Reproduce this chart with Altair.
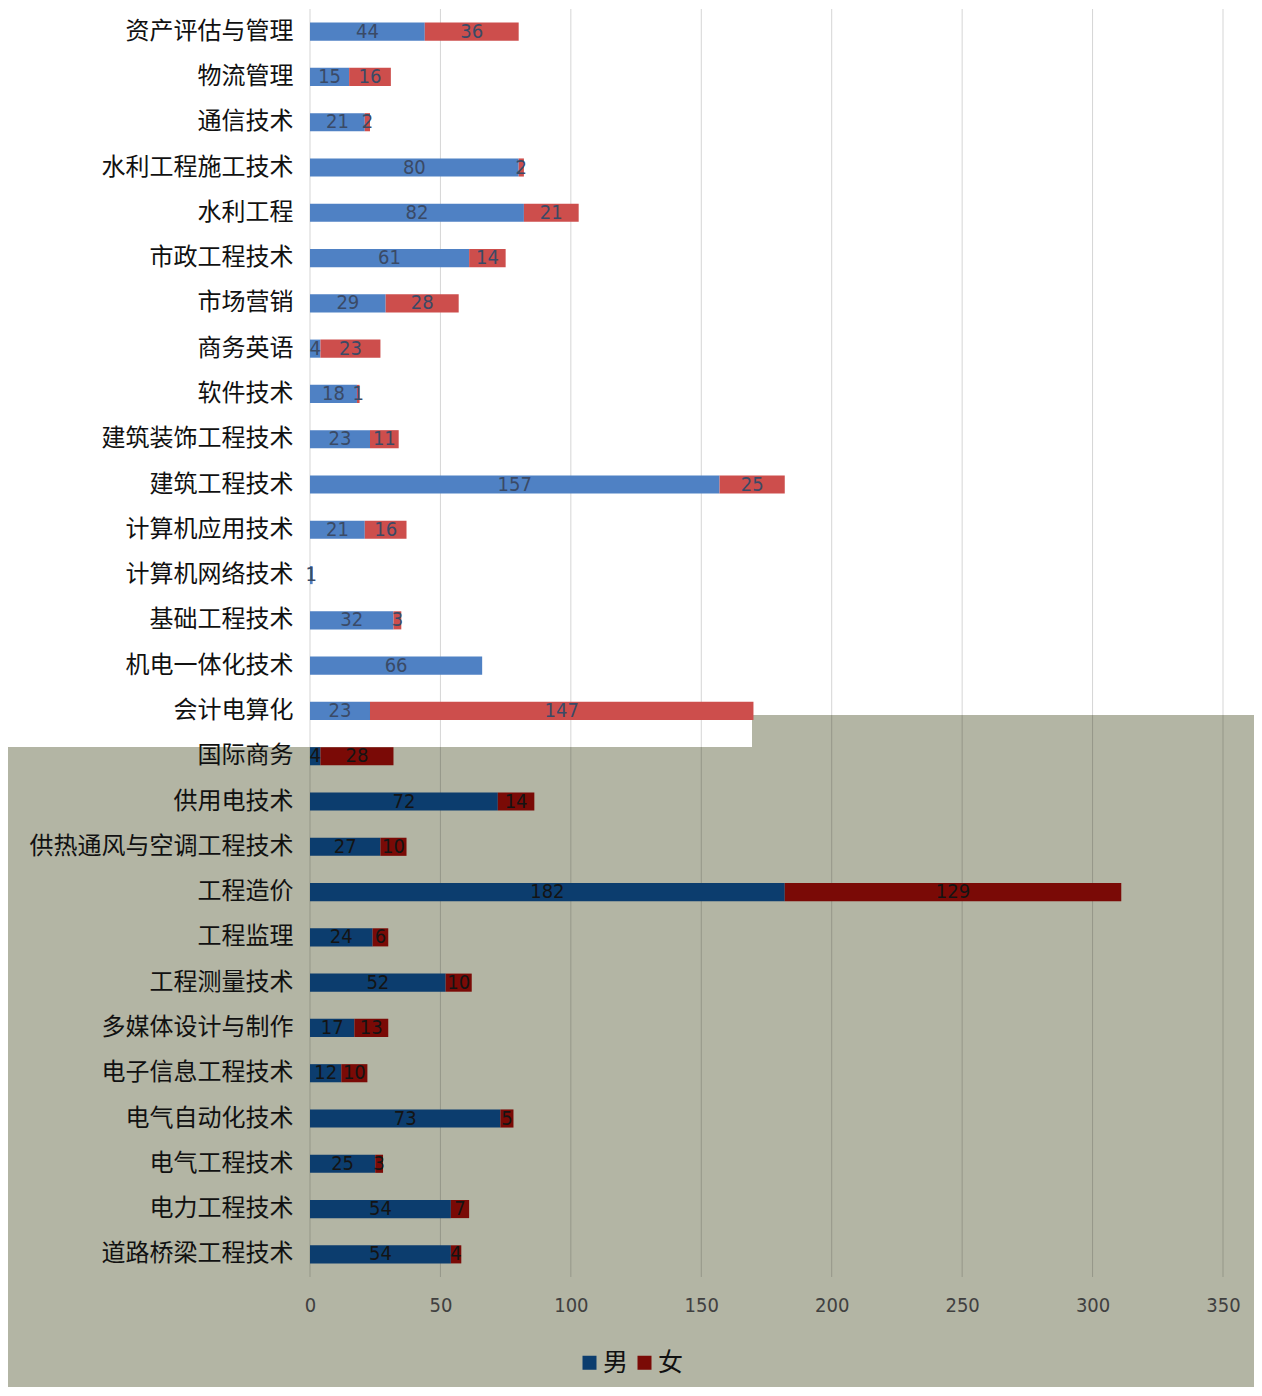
import altair as alt
import pandas as pd

categories = [
    "资产评估与管理", "物流管理", "通信技术", "水利工程施工技术", "水利工程",
    "市政工程技术", "市场营销", "商务英语", "软件技术", "建筑装饰工程技术",
    "建筑工程技术", "计算机应用技术", "计算机网络技术", "基础工程技术",
    "机电一体化技术", "会计电算化", "国际商务", "供用电技术",
    "供热通风与空调工程技术", "工程造价", "工程监理", "工程测量技术",
    "多媒体设计与制作", "电子信息工程技术", "电气自动化技术", "电气工程技术",
    "电力工程技术", "道路桥梁工程技术",
]
male = [44, 15, 21, 80, 82, 61, 29, 4, 18, 23, 157, 21, 1, 32, 66, 23,
        4, 72, 27, 182, 24, 52, 17, 12, 73, 25, 54, 54]
female = [36, 16, 2, 2, 21, 14, 28, 23, 1, 11, 25, 16, 0, 3, 0, 147,
          28, 14, 10, 129, 6, 10, 13, 10, 5, 3, 7, 4]
series = ["男", "女"]
x_ticks = [0, 50, 100, 150, 200, 250, 300, 350]
first_shaded = "国际商务"

split = categories.index(first_shaded)
rows = []
for i, c in enumerate(categories):
    m, f = male[i], female[i]
    reg = "top" if i < split else "bottom"
    rows.append(dict(cat=c, sex=series[0], start=0, end=m, mid=m / 2, value=m, region=reg))
    rows.append(dict(cat=c, sex=series[1], start=m, end=m + f, mid=m + f / 2, value=f, region=reg))
df = pd.DataFrame(rows)

W, H = 913, 1268
CJK = "Noto Sans CJK SC"
NUM = "Liberation Sans Narrow, DejaVu Sans Condensed, sans-serif"

x_scale = alt.Scale(domain=[0, 350], nice=False, zero=True)
x_axis = alt.Axis(values=x_ticks, grid=False, domain=False, ticks=False, title=None,
                  labelFontSize=20, labelColor="#404040", labelPadding=18,
                  labelFont=NUM, labelFlush=False, zindex=1)
y_axis = alt.Axis(title=None, domain=False, ticks=False, labelFontSize=24,
                  labelColor="#111111", labelFont=CJK, labelPadding=17,
                  labelLimit=400, minExtent=302, maxExtent=302, zindex=1)
y_enc = alt.Y("cat:N", sort=categories,
              scale=alt.Scale(paddingInner=0.6, paddingOuter=0.3), axis=y_axis)

bg_main = alt.Chart(alt.Data(values=[{}])).mark_rect(color="#b3b5a4").encode(
    x=alt.value(-302), x2=alt.value(944), y=alt.value(738), y2=alt.value(1378))
bg_step = alt.Chart(alt.Data(values=[{}])).mark_rect(color="#b3b5a4").encode(
    x=alt.value(442), x2=alt.value(944), y=alt.value(706), y2=alt.value(739))

grid = alt.Chart(pd.DataFrame({"t": x_ticks})).mark_rule(
    color="black", opacity=0.17, strokeWidth=1).encode(
    x=alt.X("t:Q", scale=x_scale, axis=x_axis), y=alt.value(0), y2=alt.value(H))

bars_top = alt.Chart(df).transform_filter("datum.region == 'top'").mark_bar().encode(
    x=alt.X("start:Q", scale=x_scale, axis=x_axis), x2="end:Q", y=y_enc,
    color=alt.Color("sex:N", scale=alt.Scale(domain=series, range=["#4f81c4", "#cd4e4c"]),
                    legend=None))

bars_bot = alt.Chart(df).transform_filter("datum.region == 'bottom'").mark_bar().encode(
    x=alt.X("start:Q", scale=x_scale, axis=x_axis), x2="end:Q", y=y_enc,
    color=alt.Color("sex:N", scale=alt.Scale(domain=series, range=["#0c3d6e", "#7a0a06"]),
                    legend=alt.Legend(orient="none", legendX=267, legendY=1341,
                                      direction="horizontal", title=None,
                                      symbolType="square", symbolSize=196,
                                      symbolStrokeWidth=0, labelFontSize=25,
                                      labelFont=CJK, labelColor="#111111",
                                      labelOffset=1, columnPadding=3, padding=0,
                                      zindex=1)))

labels = alt.Chart(df).transform_filter("datum.value > 0").mark_text(
    fontSize=20, font=NUM, baseline="middle", align="center").encode(
    x=alt.X("mid:Q", scale=x_scale, axis=x_axis), y=y_enc, text="value:Q",
    color=alt.condition("datum.region == 'top'", alt.value("#3a4a66"), alt.value("#141414")))

chart = alt.layer(bg_main, bg_step, grid, bars_top, bars_bot, labels).resolve_scale(
    color="independent").properties(
    width=W, height=H, padding={"left": 0, "top": 0, "right": 0, "bottom": 0},
    background="white").configure_view(strokeWidth=0)

chart.save("out.html", embed_options={"renderer": "svg", "actions": False})
